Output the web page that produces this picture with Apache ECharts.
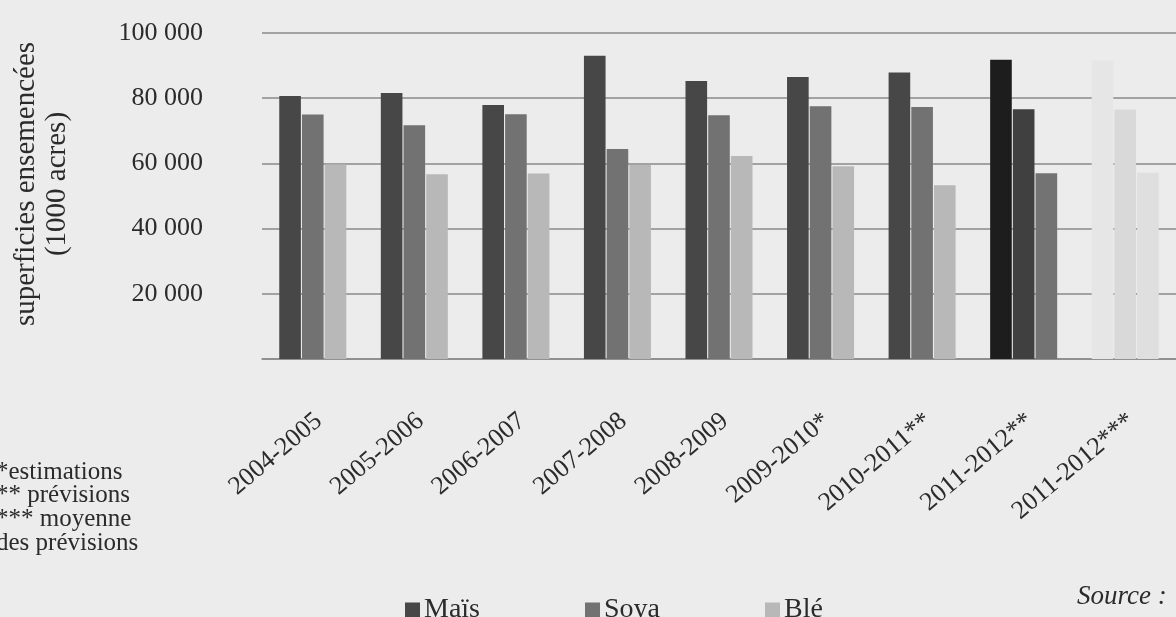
<!DOCTYPE html>
<html>
<head>
<meta charset="utf-8">
<script src="https://cdn.jsdelivr.net/npm/echarts@6/dist/echarts.min.js"></script>
<style>
html,body{margin:0;padding:0;background:#ececec;}
#chart{width:1176px;height:617px;}
</style>
</head>
<body>
<div id="chart"></div>
<script>
const categories = ['2004-2005','2005-2006','2006-2007','2007-2008','2008-2009','2009-2010*','2010-2011**','2011-2012**','2011-2012***'];
const maisValues = [80700, 81600, 77900, 93000, 85300, 86500, 87900, 91800, 91600];
const soyaValues = [75000, 71700, 75100, 64400, 74800, 77500, 77300, 76600, 76500];
const bleValues  = [59700, 56700, 56900, 59500, 62300, 59100, 53300, 57000, 57100];
const seriesNames = ['Maïs', 'Soya', 'Blé'];
const yTicks = [0, 20000, 40000, 60000, 80000, 100000];
const notes = ['*estimations', '** prévisions', '*** moyenne', 'des prévisions'];
const yTitle = 'superficies ensemencées\n(1000 acres)';
const sourceText = 'Source :';

const FONT = '"Liberation Serif", "DejaVu Serif", serif';
const TXT = '#2b2b2b';
const baseColors = ['#474747', '#727272', '#b8b8b8'];
// per-category colour overrides (group index -> colours for each series)
const overrideColors = {
  7: ['#1d1d1d', '#404040', '#737373'],
  8: ['#e6e6e6', '#d9d9d9', '#dfdfdf']
};

function fmt(v){
  if (v === 0) return '';
  const s = String(v);
  return s.slice(0, s.length - 3) + ' ' + s.slice(-3);
}

function buildSeries(name, values, si){
  return {
    name: name,
    type: 'bar',
    barGap: '5%',
    barCategoryGap: '34%',
    itemStyle: { color: baseColors[si] },
    data: values.map((v, i) => overrideColors[i]
      ? { value: v, itemStyle: { color: overrideColors[i][si] } }
      : v)
  };
}

const chart = echarts.init(document.getElementById('chart'), null, {renderer: 'canvas'});
const option = {
  animation: false,
  backgroundColor: '#ececec',
  textStyle: { fontFamily: FONT, color: TXT },
  grid: { left: 262, top: 33, width: 925, height: 326, containLabel: false },
  legend: {
    data: seriesNames,
    left: 400,
    top: 591,
    itemWidth: 15,
    itemHeight: 15,
    itemGap: 105,
    icon: 'rect',
    textStyle: { fontFamily: FONT, fontSize: 28, color: TXT, padding: [0,0,0,-1] }
  },
  xAxis: {
    type: 'category',
    data: categories,
    axisTick: { show: false },
    axisLine: { lineStyle: { color: '#8a8a8a', width: 1.5 } },
    axisLabel: {
      rotate: 40,
      margin: 64,
      interval: 0,
      padding: [0, -8, 0, 0],
      fontFamily: FONT,
      fontSize: 26,
      color: TXT
    }
  },
  yAxis: {
    type: 'value',
    min: yTicks[0],
    max: yTicks[yTicks.length - 1],
    interval: yTicks[1] - yTicks[0],
    axisLine: { show: false },
    axisTick: { show: false },
    splitLine: { lineStyle: { color: '#8a8a8a', width: 1.5 } },
    axisLabel: {
      margin: 59,
      fontFamily: FONT,
      fontSize: 26,
      color: TXT,
      formatter: fmt
    }
  },
  series: [
    buildSeries(seriesNames[0], maisValues, 0),
    buildSeries(seriesNames[1], soyaValues, 1),
    buildSeries(seriesNames[2], bleValues, 2)
  ],
  graphic: [
    {
      type: 'text',
      x: 42, y: 184,
      rotation: Math.PI / 2,
      style: {
        text: yTitle,
        fontFamily: FONT, fontSize: 29, lineHeight: 31,
        fill: TXT, align: 'center', verticalAlign: 'middle'
      }
    },
    ...notes.map((t, i) => ({
      type: 'text',
      x: -4, y: 472 + i * 23.7,
      style: {
        text: t, fontFamily: FONT, fontSize: 25,
        fill: TXT, align: 'left', verticalAlign: 'middle'
      }
    })),
    {
      type: 'text',
      x: 1077, y: 597,
      style: {
        text: sourceText, fontFamily: FONT, fontSize: 27, fontStyle: 'italic',
        fill: TXT, align: 'left', verticalAlign: 'middle'
      }
    }
  ]
};
chart.setOption(option);
</script>
</body>
</html>
